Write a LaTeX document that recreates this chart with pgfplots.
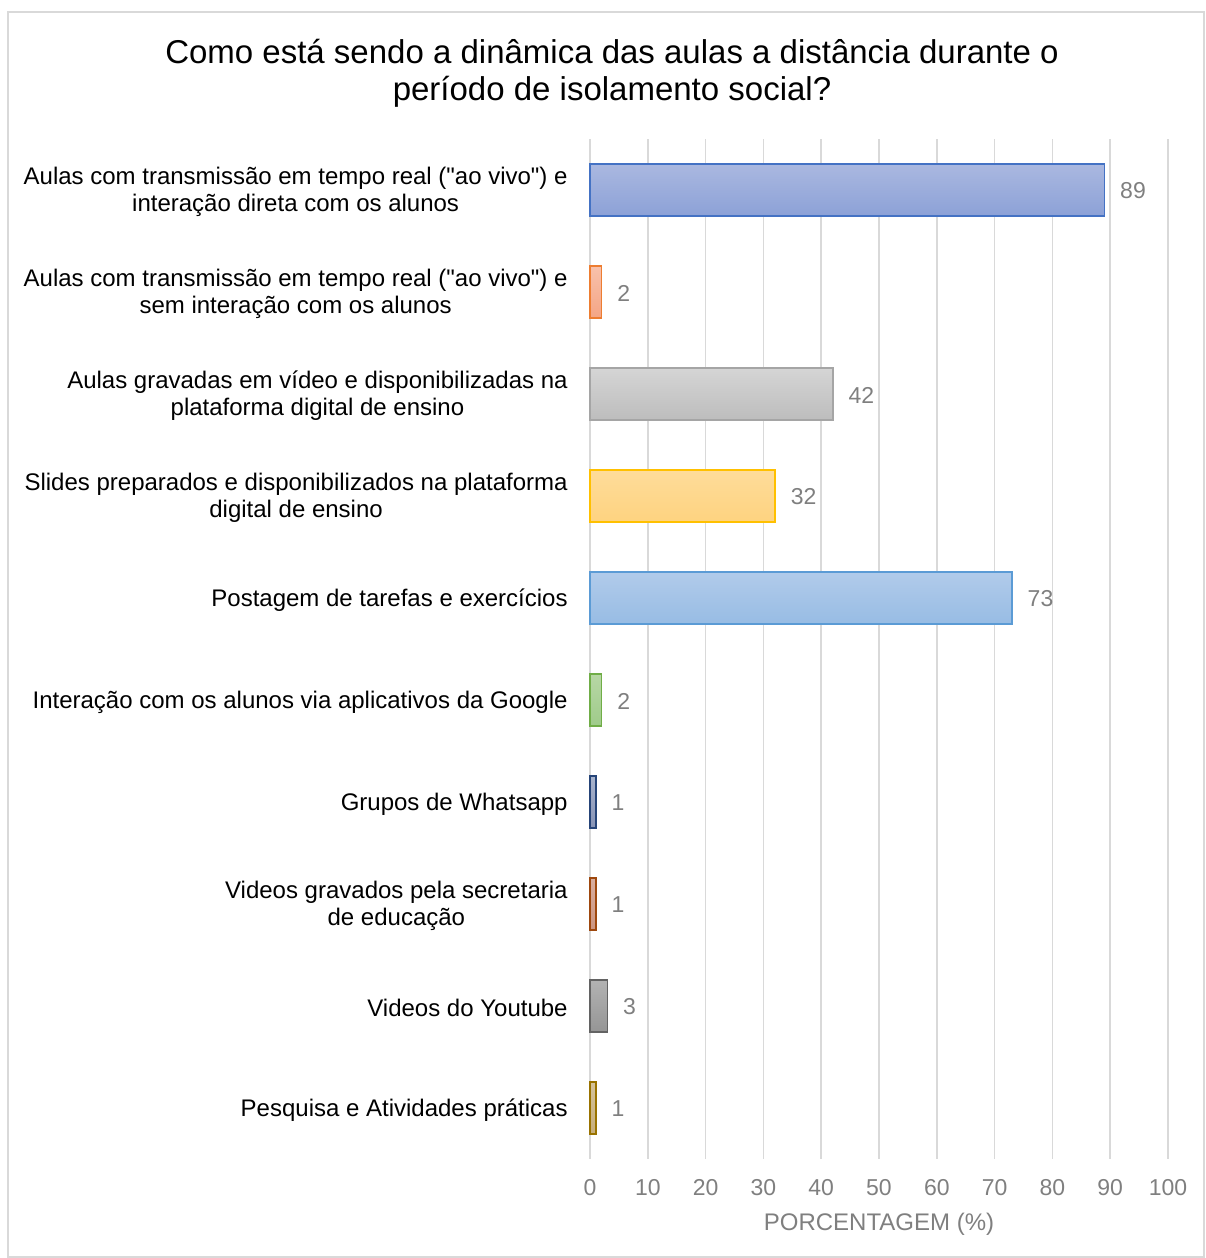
\documentclass[border=0pt]{standalone}
\usepackage{fontspec}
\setmainfont{Liberation Sans}[Ligatures=TeXOff]
\usepackage{pgfplots}
\pgfplotsset{compat=1.18}
\definecolor{gridc}{HTML}{D9D9D9}
\definecolor{lblc}{HTML}{7F7F7F}
\definecolor{t1}{HTML}{AAB8E0}\definecolor{b1}{HTML}{8CA1D7}\definecolor{e1}{HTML}{4472C4}
\definecolor{t2}{HTML}{F8C1AB}\definecolor{b2}{HTML}{F4A585}\definecolor{e2}{HTML}{ED7D31}
\definecolor{t3}{HTML}{D5D5D5}\definecolor{b3}{HTML}{BDBDBD}\definecolor{e3}{HTML}{A5A5A5}
\definecolor{t4}{HTML}{FEDC9A}\definecolor{b4}{HTML}{FED380}\definecolor{e4}{HTML}{FFC000}
\definecolor{t5}{HTML}{B1CBEA}\definecolor{b5}{HTML}{97BCE4}\definecolor{e5}{HTML}{5B9BD5}
\definecolor{t6}{HTML}{B7D7A5}\definecolor{b6}{HTML}{9FCB8A}\definecolor{e6}{HTML}{70AD47}
\definecolor{t7}{HTML}{A8B3CC}\definecolor{b7}{HTML}{8793B5}\definecolor{e7}{HTML}{264478}
\definecolor{t8}{HTML}{D9AE9F}\definecolor{b8}{HTML}{CC9580}\definecolor{e8}{HTML}{9E480E}
\definecolor{t9}{HTML}{B3B3B3}\definecolor{b9}{HTML}{959595}\definecolor{e9}{HTML}{636363}
\definecolor{t10}{HTML}{D5C39B}\definecolor{b10}{HTML}{C7AE7A}\definecolor{e10}{HTML}{997300}
\pgfplotsset{
  mybar/.style n args={3}{xbar, bar width=26pt, bar shift=0pt,
    top color=#1, bottom color=#2, draw=#3, line width=0.8pt}
}
\begin{document}
\begin{tikzpicture}
\useasboundingbox (-295pt,-49.5pt) rectangle (307.5pt,579.5pt);
\draw[gridc, line width=0.6pt] (-291pt,-49pt) rectangle (307pt,573.5pt);
\node[align=center, font=\fontsize{16.5}{18.5}\selectfont, anchor=center] at (11pt,543pt)
  {Como está sendo a dinâmica das aulas a distância durante o\\período de isolamento social?};
\begin{axis}[
  at={(0,0)}, anchor=south west,
  scale only axis, width=289pt, height=510pt,
  xmin=0, xmax=100, ymin=0.5, ymax=10.5,
  y dir=reverse,
  xtick={0,10,...,100},
  ytick={1,...,10},
  yticklabels={
    {Aulas com transmissão em tempo real ("ao vivo") e\\interação direta com os alunos},
    {Aulas com transmissão em tempo real ("ao vivo") e\\sem interação com os alunos},
    {Aulas gravadas em vídeo e disponibilizadas na\\plataforma digital de ensino},
    {Slides preparados e disponibilizados na plataforma\\digital de ensino},
    {Postagem de tarefas e exercícios},
    {Interação com os alunos via aplicativos da Google},
    {Grupos de Whatsapp},
    {Videos gravados pela secretaria\\de educação},
    {Videos do Youtube},
    {Pesquisa e Atividades práticas}},
  yticklabel style={align=center, inner sep=0pt, xshift=-11pt, yshift=-1pt, font=\fontsize{12}{13.5}\selectfont, text=black},
  xticklabel style={inner sep=0pt, yshift=-10pt, font=\fontsize{11.5}{12}\selectfont, text=lblc},
  /pgf/number format/assume math mode=true,
  major tick length=0pt,
  axis line style={draw=none},
  xmajorgrids, major grid style={gridc, line width=0.8pt},
  xlabel={PORCENTAGEM (\%)},
  xlabel style={font=\fontsize{12}{13}\selectfont, text=lblc, at={(axis description cs:0.5,0)}, anchor=center, yshift=-32.5pt},
  point meta=x,
  nodes near coords,
  every node near coord/.append style={font=\fontsize{11.5}{12}\selectfont, text=lblc, anchor=west, inner sep=0pt, xshift=7.5pt, yshift=-0.5pt},
  clip=false,
]
\addplot[mybar={t1}{b1}{e1}] coordinates {(89,1)};
\addplot[mybar={t2}{b2}{e2}] coordinates {(2,2)};
\addplot[mybar={t3}{b3}{e3}] coordinates {(42,3)};
\addplot[mybar={t4}{b4}{e4}] coordinates {(32,4)};
\addplot[mybar={t5}{b5}{e5}] coordinates {(73,5)};
\addplot[mybar={t6}{b6}{e6}] coordinates {(2,6)};
\addplot[mybar={t7}{b7}{e7}] coordinates {(1,7)};
\addplot[mybar={t8}{b8}{e8}] coordinates {(1,8)};
\addplot[mybar={t9}{b9}{e9}] coordinates {(3,9)};
\addplot[mybar={t10}{b10}{e10}] coordinates {(1,10)};
\end{axis}
\end{tikzpicture}
\end{document}
